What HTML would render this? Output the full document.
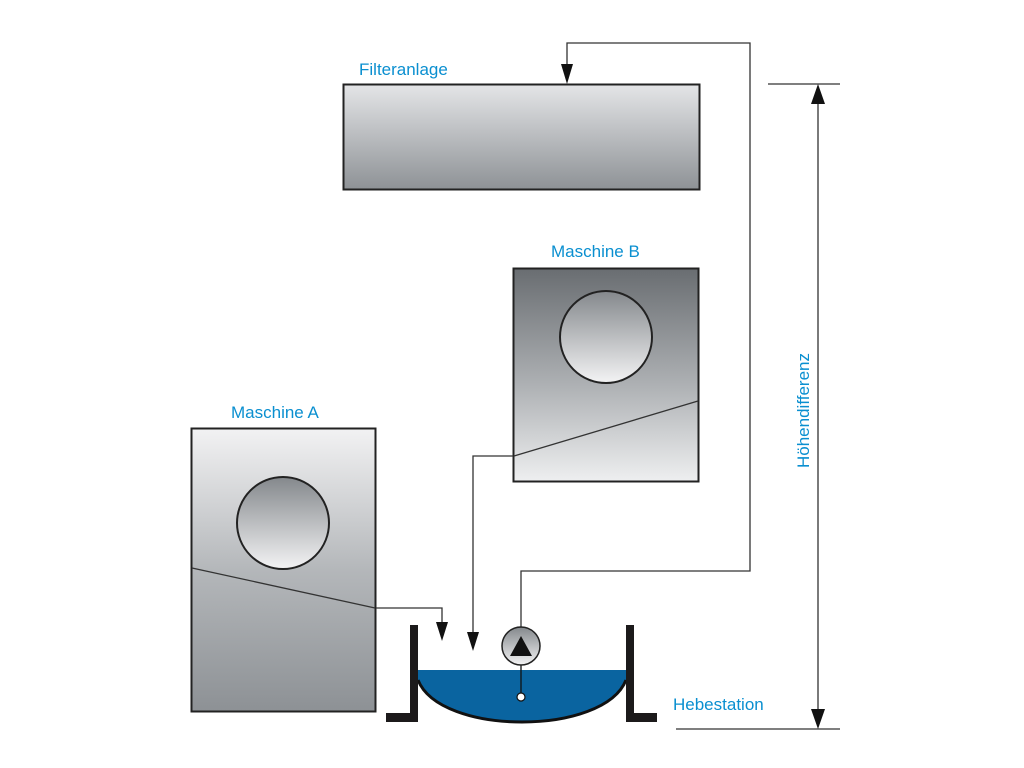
<!DOCTYPE html>
<html><head><meta charset="utf-8"><style>html,body{margin:0;padding:0;background:#fff}svg{display:block}text{font-family:"Liberation Sans",sans-serif;fill:#0a8fd0;font-size:17px}</style></head><body>
<svg width="1024" height="768" viewBox="0 0 1024 768" xmlns="http://www.w3.org/2000/svg">
<defs>
<linearGradient id="gF" x1="0" y1="0" x2="0" y2="1"><stop offset="0" stop-color="#e4e5e7"/><stop offset="1" stop-color="#8e9296"/></linearGradient>
<linearGradient id="gA" x1="0" y1="0" x2="0" y2="1"><stop offset="0" stop-color="#f2f2f3"/><stop offset="0.5" stop-color="#b4b7ba"/><stop offset="1" stop-color="#8d9195"/></linearGradient>
<linearGradient id="gB" x1="0" y1="0" x2="0" y2="1"><stop offset="0" stop-color="#696d71"/><stop offset="0.55" stop-color="#aeb1b4"/><stop offset="1" stop-color="#eeeff0"/></linearGradient>
<linearGradient id="gC" x1="0" y1="0" x2="0" y2="1"><stop offset="0" stop-color="#84888c"/><stop offset="1" stop-color="#f3f3f4"/></linearGradient>
</defs>
<text x="359" y="75">Filteranlage</text>
<rect x="343.5" y="84.5" width="356" height="105" fill="url(#gF)" stroke="#222" stroke-width="2"/>
<text x="551" y="257">Maschine B</text>
<rect x="513.5" y="268.5" width="185" height="213" fill="url(#gB)" stroke="#222" stroke-width="2"/>
<circle cx="606" cy="337" r="46" fill="url(#gC)" stroke="#222" stroke-width="2"/>
<line x1="514" y1="456" x2="698" y2="401" stroke="#333" stroke-width="1.3"/>
<text x="231" y="418">Maschine A</text>
<rect x="191.5" y="428.5" width="184" height="283" fill="url(#gA)" stroke="#222" stroke-width="2"/>
<circle cx="283" cy="523" r="46" fill="url(#gC)" stroke="#222" stroke-width="2"/>
<line x1="192" y1="568" x2="375" y2="608" stroke="#333" stroke-width="1.3"/>
<g fill="none" stroke="#333" stroke-width="1.3">
<polyline points="376,608 442,608 442,625"/>
<polyline points="513,456 473,456 473,635"/>
<polyline points="521,660 521,571 750,571 750,43 567,43 567,70"/>
<line x1="818" y1="100" x2="818" y2="715"/>
<line x1="768" y1="84" x2="840" y2="84"/>
<line x1="676" y1="729" x2="840" y2="729"/>
</g>
<g fill="#111">
<polygon points="436,622 448,622 442,641"/>
<polygon points="467,632 479,632 473,651"/>
<polygon points="561,64 573,64 567,84"/>
<polygon points="811,104 825,104 818,84"/>
<polygon points="811,709 825,709 818,729"/>
</g>
<path d="M418,670 L626,670 L626,680 C604,736 440,736 418,680 Z" fill="#0a64a0"/>
<path d="M418,680 C440,736 604,736 626,680" fill="none" stroke="#111" stroke-width="3"/>
<path d="M410,625 h8 v97 h-32 v-9 h24 Z" fill="#1c1a1b"/>
<path d="M626,625 h8 v88 h23 v9 h-31 Z" fill="#1c1a1b"/>
<line x1="521" y1="660" x2="521" y2="695" stroke="#111" stroke-width="1.3"/>
<circle cx="521" cy="697" r="4" fill="#fff" stroke="#111" stroke-width="1.2"/>
<circle cx="521" cy="646" r="19" fill="url(#gC)" stroke="#222" stroke-width="1.5"/>
<polygon points="510,656 532,656 521,636" fill="#111"/>
<text x="673" y="710">Hebestation</text>
<text transform="translate(809,468) rotate(-90)">Höhendifferenz</text>
</svg>
</body></html>
